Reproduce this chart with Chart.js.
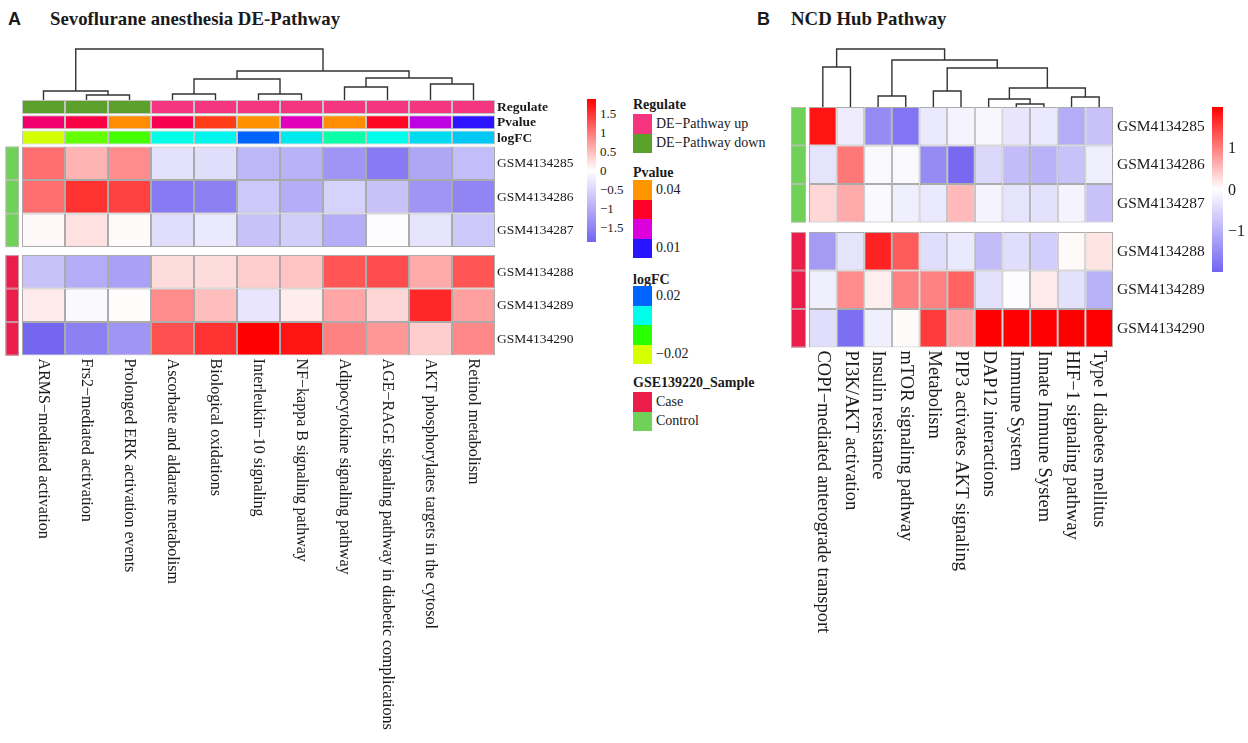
<!DOCTYPE html>
<html><head><meta charset="utf-8"><title>Pathway heatmaps</title>
<script src="https://cdn.jsdelivr.net/npm/chart.js@4.4.1/dist/chart.umd.min.js"></script>
<style>
html,body{margin:0;padding:0;background:#fff}
body{width:1248px;height:743px;position:relative;overflow:hidden;font-family:"Liberation Serif","Times New Roman",serif;color:#1a1a1a}
canvas{position:absolute}
.t{position:absolute;white-space:nowrap}
.box{position:absolute}
</style></head><body>
<script>
// ---------------- DATA ----------------
const pathwaysA = ['ARMS−mediated activation','Frs2−mediated activation','Prolonged ERK activation events','Ascorbate and aldarate metabolism','Biological oxidations','Interleukin−10 signaling','NF−kappa B signaling pathway','Adipocytokine signaling pathway','AGE−RAGE signaling pathway in diabetic complications','AKT phosphorylates targets in the cytosol','Retinol metabolism'];
const pathwaysB = ['COPI−mediated anterograde transport','PI3K/AKT activation','Insulin resistance','mTOR signaling pathway','Metabolism','PIP3 activates AKT signaling','DAP12 interactions','Immune System','Innate Immune System','HIF−1 signaling pathway','Type I diabetes mellitus'];
const samples = ['GSM4134285','GSM4134286','GSM4134287','GSM4134288','GSM4134289','GSM4134290'];
const sampleGroup = ['Control','Control','Control','Case','Case','Case'];

const heatA = [
  [1.07,0.55,0.85,-0.36,-0.40,-0.87,-0.94,-1.28,-1.61,-1.07,-0.80],
  [1.07,1.51,1.40,-1.61,-1.54,-0.67,-1.00,-0.54,-0.74,-1.28,-1.48],
  [0.05,0.22,0.04,-0.40,-0.27,-0.74,-0.60,-1.00,-0.04,-0.34,-0.67],
  [-0.74,-1.00,-1.14,0.26,0.26,0.37,0.44,1.25,1.33,0.63,1.25],
  [0.15,-0.07,0.02,0.85,0.48,-0.31,0.13,0.66,0.30,1.59,0.70],
  [-1.85,-1.54,-1.28,1.29,1.51,1.88,1.73,0.92,0.77,0.37,0.88]
];
const heatB = [
  [1.84,-0.24,-1.50,-1.79,-0.29,-0.14,-0.10,-0.33,-0.29,-1.07,-0.79],
  [-0.36,1.06,-0.07,-0.07,-1.50,-1.93,-0.50,-0.86,-1.00,-0.79,-0.21],
  [0.31,0.67,-0.07,-0.21,-0.29,0.55,-0.14,-0.36,-0.39,-0.14,-0.79],
  [-1.29,-0.36,1.73,1.29,-0.43,-0.29,-0.86,-0.43,-0.64,0.04,0.21],
  [-0.21,0.90,0.13,0.98,0.98,1.22,-0.39,-0.04,0.16,-0.39,-1.00],
  [-0.43,-1.86,-0.21,0.04,1.53,0.71,2.00,2.00,2.00,2.00,2.00]
];

const regulateA = ['DE−Pathway down','DE−Pathway down','DE−Pathway down','DE−Pathway up','DE−Pathway up','DE−Pathway up','DE−Pathway up','DE−Pathway up','DE−Pathway up','DE−Pathway up','DE−Pathway up'];
const pvalueA = [0.0261,0.0283,0.0393,0.0278,0.0340,0.0397,0.0217,0.0393,0.0305,0.0183,0.0102];
const logfcA = [-0.0197,-0.0112,-0.0089,0.0065,0.0075,0.0200,0.0085,0.0029,0.0066,0.0098,0.0114];

// hclust-style merges (negative = leaf column, positive = earlier merge) and heights
const mergeA = [[-2,-3],[-1,1],[-4,-5],[-6,-7],[3,4],[-8,-9],[-10,-11],[6,7],[5,8],[2,9]];
const heightA = [5,9,6,6,21,13,16,22,29,51];
const mergeB = [[-1,-2],[-3,-4],[-5,-6],[-8,-9],[-7,4],[-10,-11],[5,6],[3,7],[2,8],[1,9]];
const heightB = [40,11,16,3,8,10,19,39,47,58];

const colorTicksA = [1.5,1,0.5,0,-0.5,-1,-1.5];
const colorTicksB = [1,0,-1];
const pvalueLegend = [0.04,0.03,0.02,0.01];
const logfcLegend = [0.02,0.00667,-0.00667,-0.02];
const regulateLevels = ['DE−Pathway up','DE−Pathway down'];
const groupLevels = ['Case','Control'];

// ---------------- STYLE ----------------
const LOW = [115,100,240], HIGH = [255,0,0];
const DENDRO_COLOR = '#333333';
const regulateColors = {'DE−Pathway up':'#F5357F','DE−Pathway down':'#5BA02B'};
const groupColors = {'Case':'#EB1E4B','Control':'#6FD157'};
const pStops = [[0.01,[40,20,255]],[0.02,[220,0,220]],[0.03,[255,0,40]],[0.04,[255,150,0]]];
const fcStops = [[-0.02,[215,255,0]],[-0.00667,[40,255,0]],[0.00667,[0,255,235]],[0.02,[0,100,255]]];

function rgb(a){return 'rgb('+a.map(v=>Math.round(v)).join(',')+')';}
function heatColor(v, vmax){
  const t = Math.min(Math.abs(v)/vmax,1);
  const end = v>=0 ? HIGH : LOW;
  return rgb([0,1,2].map(k=>255+(end[k]-255)*t));
}
function gradColor(v, stops){
  if (v<=stops[0][0]) return rgb(stops[0][1]);
  for (let i=1;i<stops.length;i++){
    if (v<=stops[i][0]){
      const t=(v-stops[i-1][0])/(stops[i][0]-stops[i-1][0]);
      return rgb([0,1,2].map(k=>stops[i-1][1][k]+(stops[i][1][k]-stops[i-1][1][k])*t));
    }
  }
  return rgb(stops[stops.length-1][1]);
}
const absMax = m => Math.max(...m.flat().map(Math.abs));

// ---------------- PLUGIN: labels + row annotation ----------------
const heatText = {
  id:'heatText',
  afterDatasetsDraw(chart, args, o){
    const ctx=chart.ctx, xs=chart.scales.x, ys=chart.scales.y, area=chart.chartArea;
    ctx.save();
    o.rowSpans.forEach((s,i)=>{
      const t=ys.getPixelForValue(s[0]), b=ys.getPixelForValue(s[1]);
      const x=area.left-o.sideGap-o.sideW;
      ctx.fillStyle=groupColors[o.groups[i]];
      ctx.fillRect(x,t,o.sideW,b-t);
      ctx.strokeStyle='rgba(190,190,190,0.8)'; ctx.lineWidth=1;
      ctx.strokeRect(x+0.5,t+0.5,o.sideW-1,b-t-1);
    });
    ctx.fillStyle='#1a1a1a'; ctx.textAlign='left'; ctx.textBaseline='middle';
    ctx.font='bold '+o.rowFont+'px "Liberation Serif"';
    o.annoSpans.forEach((s,i)=>ctx.fillText(o.annoNames[i], area.right+o.rowGap, ys.getPixelForValue((s[0]+s[1])/2)+0.5));
    ctx.font=o.rowFont+'px "Liberation Serif"';
    o.rowSpans.forEach((s,i)=>ctx.fillText(o.rowNames[i], area.right+o.rowGap, ys.getPixelForValue((s[0]+s[1])/2)+0.5));
    ctx.font=o.colFont+'px "Liberation Serif"';
    chart.data.labels.forEach((lab,i)=>{
      ctx.save();
      ctx.translate(xs.getPixelForValue(i), area.bottom+o.colGap);
      ctx.rotate(Math.PI/2);
      ctx.fillText(lab,0,0);
      ctx.restore();
    });
    ctx.restore();
  }
};

function makeCanvas(left, top, w, h){
  const c=document.createElement('canvas');
  c.width=w; c.height=h; c.style.left=left+'px'; c.style.top=top+'px';
  document.body.appendChild(c); return c;
}

function buildHeat(o){
  const L=o.layout, datasets=[], annoSpans=[], rowSpans=[];
  let y=0;
  o.annos.forEach((a,k)=>{
    datasets.push({label:a.name, data:o.labels.map(()=>[y,y+L.annoH]), backgroundColor:a.colors, borderColor:'#c4c4c4', borderWidth:1});
    annoSpans.push([y,y+L.annoH]);
    y+=L.annoH+(k<o.annos.length-1?L.annoGap:L.afterAnno);
  });
  o.values.forEach((row,r)=>{
    if (r>0 && o.groups[r]!==o.groups[r-1]) y+=L.groupGap;
    rowSpans.push([y,y+L.cellH]);
    datasets.push({label:o.rowNames[r], data:row.map(()=>[y,y+L.cellH]), backgroundColor:row.map(v=>heatColor(v,o.vmax)), borderColor:'#ababab', borderWidth:1});
    y+=L.cellH;
  });
  const c=makeCanvas(o.left,o.top,o.width,o.height);
  new Chart(c,{
    type:'bar',
    data:{labels:o.labels, datasets},
    options:{
      responsive:false, animation:false, events:[], devicePixelRatio:1,
      layout:{padding:{left:o.padLeft, right:o.width-o.padLeft-o.areaW, top:0, bottom:o.height-y}},
      datasets:{bar:{grouped:false, categoryPercentage:1, barPercentage:1, borderSkipped:false, inflateAmount:0}},
      plugins:{legend:{display:false}, tooltip:{enabled:false}, colors:{enabled:false},
        heatText:{rowSpans, annoSpans, groups:o.groups, rowNames:o.rowNames, annoNames:o.annos.map(a=>a.name),
          sideW:o.sideW, sideGap:3, rowGap:o.rowGap, rowFont:o.rowFont, colFont:o.colFont, colGap:3}},
      scales:{x:{display:false, offset:true}, y:{display:false, min:0, max:y, reverse:true}}
    },
    plugins:[heatText]
  });
}

function buildDendro(merge, heights, n, left, top, w, h){
  const nodeX=[], nodeH=[], datasets=[];
  const px=k=>k<0?(-k-0.5):nodeX[k-1];
  const ph=k=>k<0?0:nodeH[k-1];
  merge.forEach((m,j)=>{
    const xa=px(m[0]), xb=px(m[1]), hh=heights[j];
    datasets.push({data:[{x:xa,y:ph(m[0])},{x:xa,y:hh},{x:xb,y:hh},{x:xb,y:ph(m[1])}],
      borderColor:DENDRO_COLOR, backgroundColor:DENDRO_COLOR, borderWidth:1.4, tension:0, fill:false, pointRadius:0, clip:false});
    nodeX.push((xa+xb)/2); nodeH.push(hh);
  });
  const c=makeCanvas(left,top,w,h);
  new Chart(c,{
    type:'line',
    data:{datasets},
    options:{
      responsive:false, animation:false, events:[], devicePixelRatio:1,
      layout:{padding:0},
      plugins:{legend:{display:false}, tooltip:{enabled:false}, colors:{enabled:false}},
      scales:{x:{type:'linear', display:false, min:0, max:n}, y:{display:false, min:0, max:h}}
    }
  });
}

function txt(s,x,cy,size,opt){
  opt=opt||{};
  const d=document.createElement('div'); d.className='t'; d.textContent=s;
  d.style.left=x+'px'; d.style.top=(cy-size/2)+'px'; d.style.fontSize=size+'px'; d.style.lineHeight=size+'px';
  if(opt.bold) d.style.fontWeight='bold';
  if(opt.family) d.style.fontFamily=opt.family;
  document.body.appendChild(d); return d;
}
function box(x,y,w,h,color){
  const d=document.createElement('div'); d.className='box';
  Object.assign(d.style,{left:x+'px',top:y+'px',width:w+'px',height:h+'px',background:color});
  document.body.appendChild(d); return d;
}
function fmt(v){return (v<0?'−':'')+Math.abs(v);}
function colorbar(x,y,w,h,vmax,ticks,labX,size){
  box(x,y,w,h,'linear-gradient(to bottom,'+rgb(HIGH)+',#ffffff,'+rgb(LOW)+')');
  ticks.forEach(v=>txt(fmt(v),labX,y+(vmax-v)/(2*vmax)*h,size));
}

// ---------------- PANEL A ----------------
const vmaxA=absMax(heatA);
buildDendro(mergeA,heightA,pathwaysA.length,22,48,473,52);
buildHeat({
  labels:pathwaysA, values:heatA, rowNames:samples, groups:sampleGroup, vmax:vmaxA,
  annos:[
    {name:'Regulate', colors:regulateA.map(r=>regulateColors[r])},
    {name:'Pvalue', colors:pvalueA.map(p=>gradColor(p,pStops))},
    {name:'logFC', colors:logfcA.map(f=>gradColor(f,fcStops))}
  ],
  layout:{annoH:14, annoGap:1.3, afterAnno:2, cellH:33.5, groupGap:8},
  left:0, top:100, width:585, height:643, padLeft:22, areaW:473,
  sideW:13.5, rowGap:2, rowFont:13.5, colFont:16
});
txt('A',8,18.5,18,{bold:true,family:'"Liberation Sans",Arial,sans-serif'});
txt('Sevoflurane anesthesia DE-Pathway',50,19,18.8,{bold:true});
colorbar(587,99,9,143,vmaxA,colorTicksA,600,13);

const LX=633, BW=19, BH=19.5, TX=656;
txt('Regulate',LX,105,14,{bold:true});
regulateLevels.forEach((r,i)=>{box(LX,114+i*BH,BW,BH,regulateColors[r]); txt(r,TX,114+i*BH+BH/2,14);});
txt('Pvalue',LX,173,14,{bold:true});
pvalueLegend.forEach((p,i)=>box(LX,180+i*BH,BW,BH,gradColor(p,pStops)));
txt(String(pvalueLegend[0]),TX,180+BH/2,14);
txt(String(pvalueLegend[pvalueLegend.length-1]),TX,180+3.5*BH,14);
txt('logFC',LX,280,14,{bold:true});
logfcLegend.forEach((f,i)=>box(LX,286+i*BH,BW,BH,gradColor(f,fcStops)));
txt(fmt(logfcLegend[0]),TX,286+BH/2,14);
txt(fmt(logfcLegend[logfcLegend.length-1]),TX,286+3.5*BH,14);
txt('GSE139220_Sample',LX,383,14,{bold:true});
groupLevels.forEach((g,i)=>{box(LX,392+i*BH,BW,BH,groupColors[g]); txt(g,TX,392+i*BH+BH/2,14);});

// ---------------- PANEL B ----------------
const vmaxB=absMax(heatB);
buildDendro(mergeB,heightB,pathwaysB.length,809,48,304,59);
buildHeat({
  labels:pathwaysB, values:heatB, rowNames:samples, groups:sampleGroup, vmax:vmaxB,
  annos:[],
  layout:{annoH:0, annoGap:0, afterAnno:0, cellH:38.5, groupGap:9.5},
  left:775, top:107, width:440, height:636, padLeft:34, areaW:304,
  sideW:15, rowGap:4, rowFont:15.5, colFont:18.5
});
txt('B',757,18.5,18,{bold:true,family:'"Liberation Sans",Arial,sans-serif'});
txt('NCD Hub Pathway',791,19,18.8,{bold:true});
colorbar(1212,107,11,165,vmaxB,colorTicksB,1228,16);
</script>
</body></html>
